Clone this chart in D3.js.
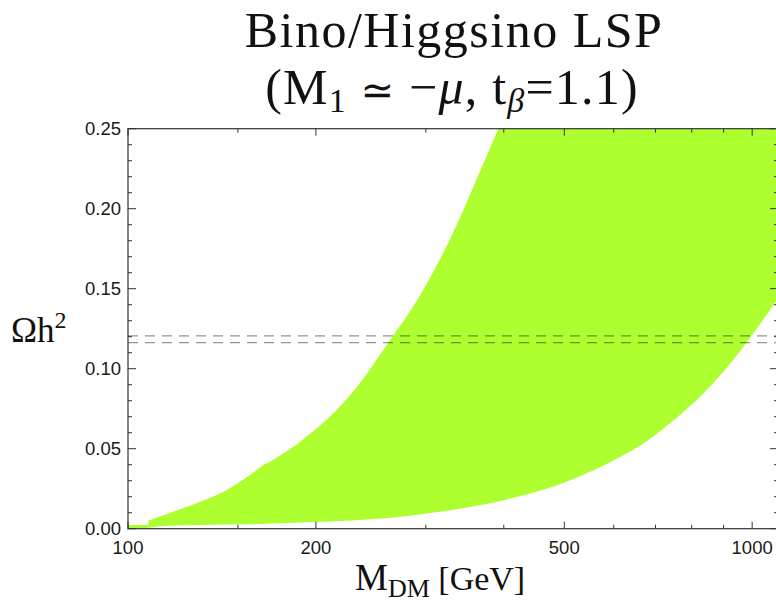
<!DOCTYPE html>
<html>
<head>
<meta charset="utf-8">
<script src="https://cdn.jsdelivr.net/npm/d3@7"></script>
<style>
  html, body { margin: 0; padding: 0; background: #fff; }
  svg { display: block; }
  .serif { font-family: "Liberation Serif", "DejaVu Serif", serif; fill: #111; }
  .tick-label { font-family: "Liberation Sans", Arial, sans-serif; font-size: 18.5px; fill: #1a1a1a; }
</style>
</head>
<body>
<svg id="chart" width="776" height="603"></svg>
<script>
// Relic density band for a bino/higgsino LSP, as a function of the DM mass.
// Upper edge of the allowed band (mass in GeV, Omega h^2)
const upperMass  = [107.8, 119, 143, 161.6, 164.8, 168.9, 188.7, 213.3, 235.4, 263, 290.2, 316.2, 340.4, 366.6, 392.2];
const upperOmega = [0.005, 0.011, 0.0236, 0.0373, 0.0398, 0.0419, 0.0544, 0.0721, 0.0912, 0.118, 0.1425, 0.1685, 0.1945, 0.2235, 0.25];
// Lower edge of the band
const lowerMass  = [107.8, 112.5, 162.7, 188.7, 235.4, 272.8, 348.8, 419.5, 504.5, 606.6, 681.6, 824.9, 932.6, 980, 998, 1100];
const lowerOmega = [0.0005, 0.0015, 0.003, 0.0039, 0.0055, 0.0075, 0.0132, 0.0198, 0.0294, 0.0437, 0.0554, 0.0825, 0.1055, 0.1165, 0.1206, 0.1436];
// Thin strip at the lightest masses
const stripMass  = [100, 107.8];
const stripOmega = [0.0023, 0.0023];
// Observed relic density window
const obsOmega = [0.1163, 0.1205];

// Axis ranges and ticks
const xDomain = [100, 1100];
const yDomain = [0, 0.25];
const xMajorTicks = [100, 200, 500, 1000];
const xMinorTicks = [150, 300, 400, 600, 700, 800, 900];
const yMajorTicks = [0, 0.05, 0.10, 0.15, 0.20, 0.25];
const yMinorTicks = d3.range(1, 25).map(i => i / 100).filter(v => Math.round(v * 100) % 5 !== 0);

const plotLeft = 128, plotTop = 128.7, plotRight = 778, plotBottom = 528.7;
const plotW = plotRight - plotLeft, plotH = plotBottom - plotTop;

const svg = d3.select("#chart");
const x = d3.scaleLog().domain(xDomain).range([plotLeft, plotRight]);
const y = d3.scaleLinear().domain(yDomain).range([plotBottom, plotTop]);

const clipId = "plotClip";
svg.append("defs").append("clipPath").attr("id", clipId)
  .append("rect").attr("x", plotLeft).attr("y", plotTop).attr("width", plotW).attr("height", plotH);

const plot = svg.append("g").attr("clip-path", `url(#${clipId})`);

// Band outline: upper edge, along the top of the frame, then the lower edge back
const smooth = d3.line().x(d => x(d[0])).y(d => y(d[1])).curve(d3.curveCatmullRom.alpha(0.5));
const upperPts = upperMass.map((m, i) => [m, upperOmega[i]]);
const lowerPts = lowerMass.map((m, i) => [m, lowerOmega[i]]);
const upperPath = smooth(upperPts);
const lowerPath = smooth(lowerPts.slice().reverse());
const bandPath = upperPath +
  "L" + x(xDomain[1]) + "," + y(yDomain[1]) +
  "L" + lowerPath.slice(1) + "Z";

plot.append("path").attr("d", bandPath).attr("fill", "#adff2f");

// Strip at low mass
plot.append("rect")
  .attr("x", x(stripMass[0])).attr("width", x(stripMass[1]) - x(stripMass[0]))
  .attr("y", y(stripOmega[0])).attr("height", y(0) - y(stripOmega[0]))
  .attr("fill", "#adff2f");

// Observed window
plot.selectAll("line.obs").data(obsOmega).join("line")
  .attr("class", "obs")
  .attr("x1", x(xDomain[0])).attr("x2", x(xDomain[1]))
  .attr("y1", d => y(d)).attr("y2", d => y(d))
  .attr("stroke", "rgba(0,0,0,0.42)").attr("stroke-width", 1.3)
  .attr("stroke-dasharray", "10,7");

// Frame with inward ticks
const frameColor = "#333";
const frame = svg.append("g");
frame.append("rect")
  .attr("x", plotLeft).attr("y", plotTop).attr("width", plotW).attr("height", plotH)
  .attr("fill", "none").attr("stroke", frameColor).attr("stroke-width", 1.2);

function xTicks(vals, len) {
  vals.forEach(v => {
    const px = x(v);
    frame.append("line").attr("x1", px).attr("x2", px)
      .attr("y1", y(0)).attr("y2", y(0) - len).attr("stroke", frameColor);
    frame.append("line").attr("x1", px).attr("x2", px)
      .attr("y1", y(0.25)).attr("y2", y(0.25) + len).attr("stroke", frameColor);
  });
}
function yTicks(vals, len) {
  vals.forEach(v => {
    const py = y(v);
    frame.append("line").attr("x1", x(xDomain[0])).attr("x2", x(xDomain[0]) + len)
      .attr("y1", py).attr("y2", py).attr("stroke", frameColor);
    frame.append("line").attr("x1", x(xDomain[1])).attr("x2", x(xDomain[1]) - len)
      .attr("y1", py).attr("y2", py).attr("stroke", frameColor);
  });
}
xTicks(xMajorTicks, 7);
xTicks(xMinorTicks, 4);
yTicks(yMajorTicks, 8);
yTicks(yMinorTicks, 4);

// Tick labels
svg.selectAll("text.xl").data(xMajorTicks).join("text")
  .attr("class", "tick-label")
  .attr("x", d => x(d)).attr("y", y(0) + 25.5)
  .attr("text-anchor", "middle")
  .text(d => d);
svg.selectAll("text.yl").data(yMajorTicks).join("text")
  .attr("class", "tick-label")
  .attr("x", plotLeft - 7).attr("y", d => y(d) + 6.5)
  .attr("text-anchor", "end")
  .text(d => d3.format(".2f")(d));

// Title
svg.append("text").attr("class", "serif")
  .attr("x", 454).attr("y", 47).attr("text-anchor", "middle")
  .style("font-size", "50px").style("letter-spacing", "1.5px")
  .text("Bino/Higgsino LSP");
const t2 = svg.append("text").attr("class", "serif")
  .attr("x", 452).attr("y", 104).attr("text-anchor", "middle")
  .style("font-size", "50px").style("letter-spacing", "1.2px");
t2.append("tspan").text("(M");
t2.append("tspan").attr("dy", 8).style("font-size", "34px").text("1");
t2.append("tspan").attr("dy", -8).text(" ");
t2.append("tspan").style("font-size", "40px").style("font-family", "DejaVu Sans").text("\u2243");
t2.append("tspan").text(" \u2212");
t2.append("tspan").style("font-style", "italic").text("\u03bc");
t2.append("tspan").text(", t");
t2.append("tspan").attr("dy", 8).style("font-size", "34px").style("font-style", "italic").text("\u03b2");
t2.append("tspan").attr("dy", -8).text("=1.1)");

// Axis titles
const xt = svg.append("text").attr("class", "serif")
  .attr("x", 355).attr("y", 590).style("font-size", "37px");
xt.append("tspan").text("M");
xt.append("tspan").attr("dy", 7).style("font-size", "26px").text("DM");
xt.append("tspan").attr("dy", -7).style("font-size", "34px").text(" [GeV]");

const yt = svg.append("text").attr("class", "serif")
  .attr("x", 11).attr("y", 342).style("font-size", "35px");
yt.append("tspan").text("\u03a9h");
yt.append("tspan").attr("dy", -14).style("font-size", "24px").text("2");
</script>
</body>
</html>
